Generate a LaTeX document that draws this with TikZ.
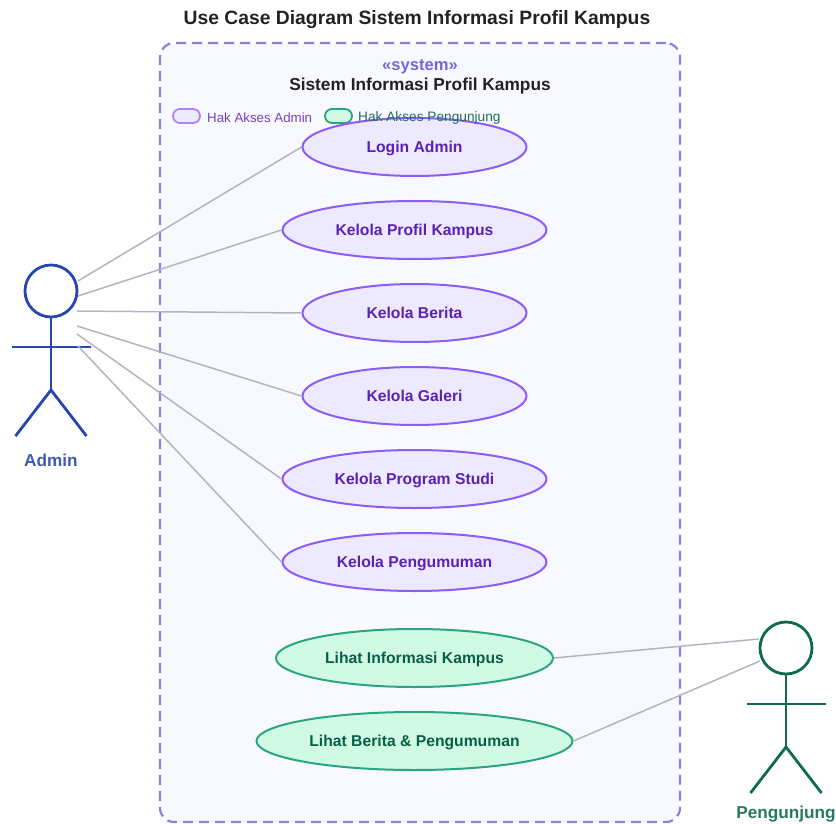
\documentclass[tikz,border=0pt]{standalone}
\usepackage{fontspec}
\setmainfont{Liberation Sans}
\usetikzlibrary{shapes.geometric}
\definecolor{boxline}{HTML}{8784E0}
\definecolor{boxfill}{HTML}{F8F9FF}
\definecolor{stereotext}{HTML}{7468D8}
\definecolor{adminline}{HTML}{8B5CF6}
\definecolor{adminfill}{HTML}{EDE9FE}
\definecolor{admintext}{HTML}{5B21B6}
\definecolor{guestline}{HTML}{2BA57F}
\definecolor{guestfill}{HTML}{D1FAE5}
\definecolor{guesttext}{HTML}{065F46}
\definecolor{adminactor}{HTML}{2647AE}
\definecolor{guestactor}{HTML}{0F6B50}
\definecolor{linkline}{HTML}{B4B4C0}
\definecolor{titletext}{HTML}{222222}
\begin{document}
\begin{tikzpicture}
[x=1pt,y=-1pt,
  admincase/.style={shape=ellipse,inner sep=0pt,minimum height=58pt,line width=2pt,draw=adminline,fill=adminfill,
    text=admintext,text height=11pt,text depth=0pt,font=\fontsize{15.7}{18}\selectfont\bfseries},%
  guestcase/.style={admincase,draw=guestline,fill=guestfill,text=guesttext},%
  linkdecorate/.style={-,line width=1.5pt,draw=linkline},%
  legendpill/.style={shape=rectangle,rounded corners=7pt,inner sep=0pt,minimum width=27pt,minimum height=14pt,line width=1.8pt},%
  legendtext/.style={anchor=west,inner sep=0pt},%
  actorname/.style={font=\fontsize{17.2}{20}\selectfont\bfseries,inner sep=0pt}]
\useasboundingbox (0,0) rectangle (836,824);
%% title and system boundary
\node (title) at (417,20) [font=\fontsize{19.3}{23}\selectfont\bfseries,text=titletext,inner sep=0pt] {Use Case Diagram Sistem Informasi Profil Kampus};
\node (system) at (420,432.5) [shape=rectangle,rounded corners=14pt,minimum width=520pt,minimum height=779pt,inner sep=0pt,
  draw=boxline,fill=boxfill,line width=2.2pt,dash pattern=on 10pt off 6pt] {};
\node (stereotype) at (420,67) [font=\fontsize{16.6}{19}\selectfont\bfseries,text=stereotext,inner sep=0pt] {«system»};
\node (systemname) at (420,86) [font=\fontsize{17.3}{20}\selectfont\bfseries,text=titletext,inner sep=0pt] {Sistem Informasi Profil Kampus};
%% legend
\node (adminpill) at (186.5,116) [legendpill,draw=adminline!75,fill=adminfill] {};
\node (guestpill) at (338.5,116) [legendpill,draw=guestline,fill=guestfill] {};
%% use cases
\foreach \nodename/\y/\w/\kind/\txt in {
  login/147/224/admincase/Login Admin, profil/230/264/admincase/Kelola Profil Kampus,
  berita/313/224/admincase/Kelola Berita, galeri/396/224/admincase/Kelola Galeri,
  prodi/479/264/admincase/Kelola Program Studi, pengumuman/562/264/admincase/Kelola Pengumuman,
  lihatinfo/658/277/guestcase/Lihat Informasi Kampus, lihatberita/741/316/guestcase/Lihat Berita \& Pengumuman}
{
  \node (\nodename) at (414.5,\y) [\kind,minimum width=\w pt] {\txt};
}
\node (adminlegend) at (207,118) [legendtext,font=\fontsize{13.3}{16}\selectfont,text=admintext!85] {Hak Akses Admin};
\node (guestlegend) at (358,118) [legendtext,font=\fontsize{13.7}{16}\selectfont,text=guesttext!90] {Hak Akses Pengunjung};
%% actors
\foreach \actor/\x/\y/\shade/\txt/\labely in {
  admin/51/291/adminactor/Admin/460, pengunjung/786/648/guestactor/Pengunjung/814}
{
  \node (\actor) at (\x,\y) [shape=circle,minimum size=52pt,inner sep=0pt,line width=2.8pt,draw=\shade] {};
  \coordinate (\actor hip) at (\x,\y+99);
  \coordinate (\actor larm) at (\x-39.5,\y+56);
  \coordinate (\actor rarm) at (\x+39.5,\y+56);
  \coordinate (\actor lfoot) at (\x-35.5,\y+145);
  \coordinate (\actor rfoot) at (\x+35.5,\y+145);
  \draw [line width=2.8pt,draw=\shade] (\actor.south) -- (\actor hip);
  \draw [line width=2.8pt,draw=\shade] (\actor larm) -- (\actor rarm);
  \draw [line width=2.8pt,draw=\shade] (\actor lfoot) -- (\actor hip) -- (\actor rfoot);
  \node (\actor label) at (\x,\labely) [actorname,text=\shade!90!white] {\txt};
}
%% free ends of the links at the actors
\foreach \portname/\x/\y in {
  a1/78/281, a2/78/296, a3/77/311, a4/77/326, a5/77/334, a6/78/346,
  p1/759/639, p2/760/661}
{
  \coordinate (\portname) at (\x,\y);
}
%% links
\path
\foreach \startnode/\endnode in {a1/login.west, a2/profil.west, a3/berita.west, a4/galeri.west,
  a5/prodi.west, a6/pengumuman.west, lihatinfo.east/p1, lihatberita.east/p2} {
  (\startnode) edge[linkdecorate] (\endnode)
};
\end{tikzpicture}
\end{document}
